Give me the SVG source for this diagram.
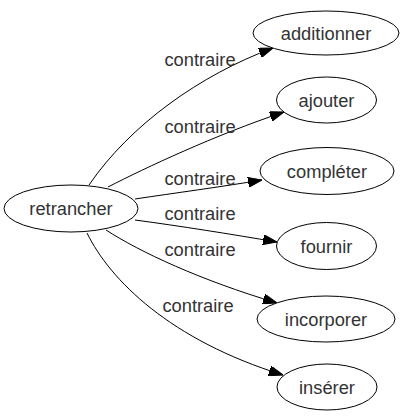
<svg xmlns="http://www.w3.org/2000/svg" width="405" height="419" viewBox="0 0 405 419">
<style>
.node ellipse{fill:#fff;stroke:#000;stroke-width:1}
text{font-family:"Liberation Sans",Arial,sans-serif;font-size:18.3px;fill:#333;text-anchor:middle}
.edges path{fill:none;stroke:#000;stroke-width:1;marker-end:url(#arr)}
</style>
<defs>
<marker id="arr" markerUnits="userSpaceOnUse" markerWidth="14" markerHeight="10" refX="14" refY="5" orient="auto">
<path d="M0,0 L14,5 L0,10 z" fill="#000" stroke="#000" stroke-width="1"/>
</marker>
</defs>
<rect width="405" height="419" fill="#fff"/>
<g class="edges" id="edges">
<path d="M89,185 C130,125 200,75 273,48"/>
<path d="M108,187 C145,168 215,135 284,112"/>
<path d="M135,199 C175,193 220,187 262,180"/>
<path d="M135,220 C180,226 230,234 277,242"/>
<path d="M106,230 C140,252 200,280 277,303"/>
<path d="M87,233 C110,280 170,340 283,375"/>
</g>
<g id="labels">
<text x="200" y="65.5">contraire</text>
<text x="200" y="132.5">contraire</text>
<text x="200" y="184.5">contraire</text>
<text x="200" y="219.5">contraire</text>
<text x="200" y="255.5">contraire</text>
<text x="198" y="311.5">contraire</text>
</g>
<g class="node" id="n-retrancher"><ellipse cx="71" cy="208.5" rx="67" ry="23.5"/><text x="71" y="215">retrancher</text></g>
<g class="node" id="n-additionner"><ellipse cx="326" cy="33" rx="73" ry="22"/><text x="326" y="39.5">additionner</text></g>
<g class="node" id="n-ajouter"><ellipse cx="326.5" cy="100" rx="50" ry="23"/><text x="326.5" y="106.5">ajouter</text></g>
<g class="node" id="n-completer"><ellipse cx="327" cy="171" rx="67" ry="23.5"/><text x="327" y="177.5">compléter</text></g>
<g class="node" id="n-fournir"><ellipse cx="326.5" cy="246" rx="50" ry="23.5"/><text x="326.5" y="252.5">fournir</text></g>
<g class="node" id="n-incorporer"><ellipse cx="326" cy="319" rx="69" ry="23"/><text x="326" y="325.5">incorporer</text></g>
<g class="node" id="n-inserer"><ellipse cx="327" cy="387" rx="50" ry="23"/><text x="327" y="393.5">insérer</text></g>
</svg>
